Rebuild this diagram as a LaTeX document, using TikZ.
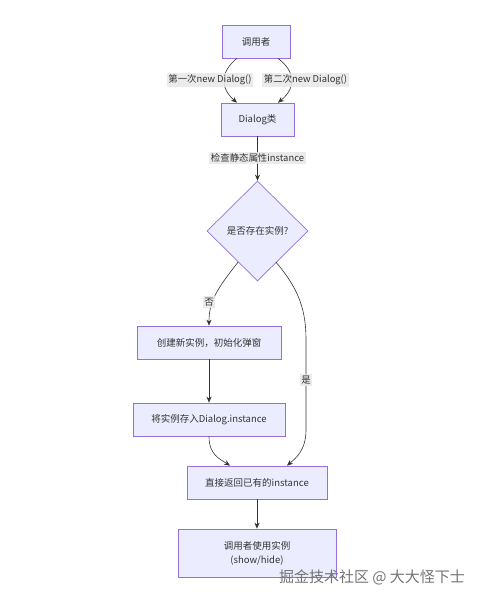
\documentclass[tikz,border=0pt]{standalone}
\usepackage{fontspec}
\setmainfont{Noto Sans CJK SC}
\usetikzlibrary{shapes.geometric,arrows.meta}

\definecolor{boxfill}{HTML}{ECECFF}
\definecolor{boxline}{HTML}{9370DB}
\definecolor{edgeline}{HTML}{333333}
\definecolor{labelbg}{HTML}{E8E8E8}

\tikzset{
  flowbox/.style={draw=boxline,fill=boxfill,line width=0.7pt,text=edgeline,inner sep=0pt,
    font=\fontsize{9.5}{14}\selectfont,align=center},
  flowedge/.style={draw=edgeline,line width=0.6pt,-{Stealth[length=6pt,width=5pt]}},
  edgelabel/.style={fill=labelbg,fill opacity=0.85,text opacity=1,text=edgeline,inner sep=1.5pt,
    font=\fontsize{9.4}{11}\selectfont}
}

\begin{document}
\begin{tikzpicture}[x=1pt,y=-1pt]

\useasboundingbox (0,0) rectangle (480,600);

\node[flowbox,minimum width=68pt,minimum height=33pt] (Caller) at (256,41.5) {调用者};
\node[flowbox,minimum width=73pt,minimum height=33pt] (DialogClass) at (257.5,119.5) {Dialog类};
\node[flowbox,diamond,aspect=1,minimum width=101pt,minimum height=100pt] (HasInstance) at (257.5,231) {是否存在实例?};
\node[flowbox,minimum width=144pt,minimum height=33pt] (CreateInst) at (209,342.5) {创建新实例，初始化弹窗};
\node[flowbox,minimum width=152pt,minimum height=33pt] (StoreInst) at (209,419.5) {将实例存入Dialog.instance};
\node[flowbox,minimum width=140pt,minimum height=33pt] (ReturnInst) at (257,482.5) {直接返回已有的instance};
\node[flowbox,minimum width=158pt,minimum height=48pt] (UseInst) at (257,553) {调用者使用实例\\(show/hide)};

\draw[flowedge] ([xshift=-19pt]Caller.south) .. controls (220,72) and (220,88) .. ([xshift=-20.5pt]DialogClass.north);
\draw[flowedge] ([xshift=22pt]Caller.south) .. controls (296,72) and (296,88) .. ([xshift=20.5pt]DialogClass.north);
\node[edgelabel] (FirstNew) at (210,80) {第一次new Dialog()};
\node[edgelabel] (SecondNew) at (305.5,80) {第二次new Dialog()};

\draw[flowedge] (DialogClass.south) -- (HasInstance.north);
\node[edgelabel] (CheckStatic) at (257.5,158) {检查静态属性instance};

\draw[flowedge] (HasInstance.south west) ++(6,6) .. controls (216,290) and (209,302) .. (CreateInst.north);
\node[edgelabel] (NoLabel) at (209,302) {否};

\draw[flowedge] (HasInstance.south east) ++(-7,6) .. controls (300,290) and (306,312) .. (306,340)
  -- (306,430) .. controls (306,450) and (296,458) .. ([xshift=30pt]ReturnInst.north);
\node[edgelabel] (YesLabel) at (306,380) {是};

\draw[flowedge] (CreateInst.south) -- (StoreInst.north);
\draw[flowedge] (StoreInst.south) .. controls (209,455) and (220,459) .. ([xshift=-27pt]ReturnInst.north);
\draw[flowedge] (ReturnInst.south) -- (UseInst.north);

\node[text=black!55,font=\fontsize{15}{18}\selectfont] (Watermark) at (372,577) {掘金技术社区 @ 大大怪下士};

\end{tikzpicture}
\end{document}
